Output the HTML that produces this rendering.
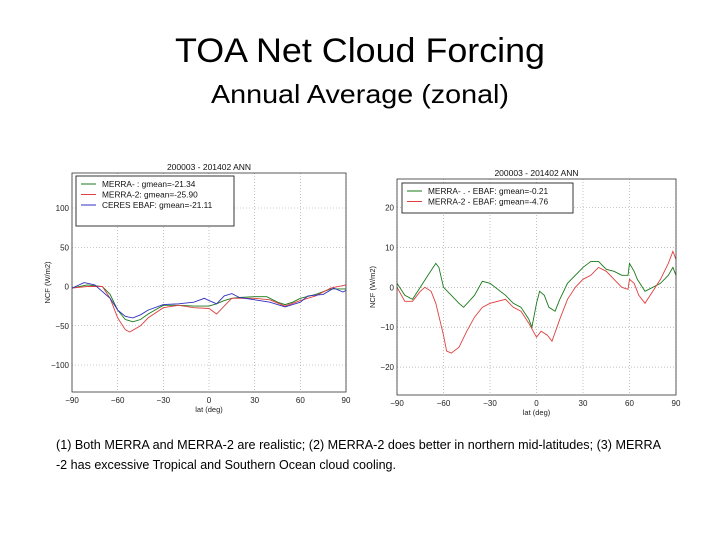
<!DOCTYPE html>
<html><head><meta charset="utf-8"><style>
html,body{margin:0;padding:0;background:#fff;}
svg{display:block;font-family:"Liberation Sans",sans-serif;}
</style></head><body>
<svg id="s" width="720" height="540" viewBox="0 0 720 540">
<text x="360" y="62" text-anchor="middle" font-size="34" textLength="370" lengthAdjust="spacingAndGlyphs" fill="#000">TOA Net Cloud Forcing</text>
<text x="360" y="103" text-anchor="middle" font-size="26" textLength="298" lengthAdjust="spacingAndGlyphs" fill="#000">Annual Average (zonal)</text>
<text x="56" y="449" font-size="13" textLength="605" lengthAdjust="spacingAndGlyphs" fill="#000">(1) Both MERRA and MERRA-2 are realistic; (2) MERRA-2 does better in northern mid-latitudes; (3) MERRA</text>
<text x="56" y="469" font-size="13" textLength="340" lengthAdjust="spacingAndGlyphs" fill="#000">-2 has excessive Tropical and Southern Ocean cloud cooling.</text>
<g id="left"></g>
<g id="right"></g>
</svg>
<script>
const xTicks=[-90,-60,-30,0,30,60,90];
const leftYTicks=[-100,-50,0,50,100];
const leftYTickLabels=["\u2212100","\u221250","0","50","100"];
const rightYTicks=[-20,-10,0,10,20];
const rightYTickLabels=["\u221220","\u221210","0","10","20"];
const xTickLabels=["\u221290","\u221260","\u221230","0","30","60","90"];

const merraLat=[-90,-80,-70,-65,-60,-55,-50,-45,-40,-30,-20,-10,0,5,10,15,20,30,38,45,50,55,60,70,80,90];
const merraVal=[-2,2,0,-10,-30,-42,-45,-42,-35,-24,-24,-25,-25,-22,-18,-15,-14,-13,-13,-20,-23,-20,-15,-10,-3,-3];
const merra2Lat=[-90,-80,-70,-65,-60,-55,-52,-45,-40,-30,-20,-10,0,5,10,15,30,40,50,60,70,80,90];
const merra2Val=[-2,0,0,-15,-40,-55,-58,-50,-40,-27,-24,-27,-28,-35,-25,-15,-15,-17,-25,-18,-12,-2,2];
const ceresLat=[-90,-82,-75,-65,-60,-55,-50,-45,-40,-30,-20,-10,-3,0,5,10,15,20,30,40,50,60,65,75,82,88,90];
const ceresVal=[-2,5,2,-15,-30,-38,-40,-36,-30,-23,-22,-20,-15,-18,-22,-12,-9,-14,-17,-20,-26,-20,-12,-10,-2,-7,-5];

const diff1Lat=[-90,-85,-80,-75,-70,-65,-63,-60,-55,-50,-47,-40,-35,-30,-20,-15,-10,-5,-3,0,2,5,8,12,15,20,30,35,40,45,50,55,59,60,63,65,70,75,80,85,88,90];
const diff1Val=[1,-2,-3,0,3,6,5,0,-2,-4,-5,-2,1.5,1,-2,-4,-5,-8,-10,-4,-1,-2,-5,-6,-3,1,5,6.5,6.5,4.5,4,3,3,6,4,2,-1,0,1,3,5,3];
const diff2Lat=[-90,-85,-80,-75,-72,-68,-65,-60,-58,-55,-50,-45,-40,-35,-30,-20,-15,-10,-5,0,3,7,10,15,20,25,30,35,40,45,50,55,59,60,63,66,70,75,80,85,88,90];
const diff2Val=[0,-3.5,-3.5,-1,0,-1,-4,-12,-16,-16.5,-15,-11,-7.5,-5,-4,-3,-5,-6,-9,-12.5,-11,-12,-13.5,-8,-3,0,2,3,5,4,2,0,-0.5,2,1,-2,-4,-1,2,6,9,7];

const NS="http://www.w3.org/2000/svg";
function mk(parent,tag,attrs,txt){const e=document.createElementNS(NS,tag);for(const k in attrs)e.setAttribute(k,attrs[k]);if(txt!==undefined)e.textContent=txt;parent.appendChild(e);return e;}

function chart(g,cfg){
  const xs=v=>cfg.x0+(v+90)/180*(cfg.x1-cfg.x0);
  const ys=v=>cfg.y0-v*cfg.k;
  const bg=mk(g,'rect',{x:cfg.x0,y:cfg.top,width:cfg.x1-cfg.x0,height:cfg.bot-cfg.top,fill:'#fff',stroke:'none'});
  
  
  xTicks.forEach((t,i)=>{
    const x=xs(t);
    const gl=mk(g,'line',{x1:x,x2:x,y1:cfg.top,y2:cfg.bot,stroke:'#999','stroke-width':0.6,'stroke-dasharray':'1,2'});
    
    
    const tl=mk(g,'text',{x:x,y:cfg.bot+11,'font-size':8,'text-anchor':'middle',fill:'#222'},xTickLabels[i]);
    
    
  });
  cfg.yt.forEach((t,i)=>{
    const y=ys(t);
    const gl=mk(g,'line',{x1:cfg.x0,x2:cfg.x1,y1:y,y2:y,stroke:'#999','stroke-width':0.6,'stroke-dasharray':'1,2'});
    
    
    const tl=mk(g,'text',{x:cfg.x0-3,y:y+3,'font-size':8,'text-anchor':'end',fill:'#222'},cfg.ytl[i]);
    
    
  });
  cfg.series.forEach(s=>{
    const d=s.lat.map((la,i)=>(i?'L':'M')+xs(la).toFixed(1)+','+ys(s.val[i]).toFixed(1)).join('');
    const p=mk(g,'path',{d:d,fill:'none',stroke:s.color,'stroke-width':0.9});
    
    
  });
  const fr=mk(g,'rect',{x:cfg.x0,y:cfg.top,width:cfg.x1-cfg.x0,height:cfg.bot-cfg.top,fill:'none',stroke:'#333','stroke-width':0.8});
  
  
  const t=mk(g,'text',{x:(cfg.x0+cfg.x1)/2,y:cfg.top-3,'font-size':8.5,'text-anchor':'middle',fill:'#111'},'200003 - 201402 ANN');
  
  
  const xl=mk(g,'text',{x:(cfg.x0+cfg.x1)/2,y:cfg.bot+20,'font-size':7.5,'text-anchor':'middle',fill:'#222'},'lat (deg)');
  
  
  const yl=mk(g,'text',{x:0,y:0,'font-size':7.5,'text-anchor':'middle',fill:'#222',transform:`translate(${cfg.x0-22},${(cfg.top+cfg.bot)/2}) rotate(-90)`},'NCF (W/m2)');
  
  
  const L=cfg.leg;
  const lb=mk(g,'rect',{x:L.x,y:L.y,width:L.w,height:L.h,fill:'#fff',stroke:'#222','stroke-width':0.9});
  
  
  cfg.series.forEach((s,i)=>{
    const yy=L.y+8+i*10.5;
    const ln=mk(g,'line',{x1:L.x+5,x2:L.x+20,y1:yy,y2:yy,stroke:s.color,'stroke-width':1});
    
    
    const lt=mk(g,'text',{x:L.x+26,y:yy+3,'font-size':8.3,fill:'#111'},s.label);
    
    
  });
}
chart(document.getElementById('left'),{x0:72,x1:346,top:173,bot:392,y0:286.5,k:0.785,yt:leftYTicks,ytl:leftYTickLabels,
  leg:{x:76,y:176,w:158,h:50},
  series:[{name:'merra-line',lat:merraLat,val:merraVal,color:'#1a7a1a',label:'MERRA-  : gmean=-21.34'},
          {name:'merra2-line',lat:merra2Lat,val:merra2Val,color:'#e04040',label:'MERRA-2: gmean=-25.90'},
          {name:'ceres-line',lat:ceresLat,val:ceresVal,color:'#3030c0',label:'CERES EBAF: gmean=-21.11'}]});
chart(document.getElementById('right'),{x0:397,x1:676,top:179,bot:395,y0:287.3,k:3.99,yt:rightYTicks,ytl:rightYTickLabels,
  leg:{x:402,y:183,w:171,h:30},
  series:[{name:'merra-minus-ebaf-line',lat:diff1Lat,val:diff1Val,color:'#1a7a1a',label:'MERRA- . - EBAF: gmean=-0.21'},
          {name:'merra2-minus-ebaf-line',lat:diff2Lat,val:diff2Val,color:'#e04040',label:'MERRA-2 - EBAF: gmean=-4.76'}]});
</script>
</body></html>
